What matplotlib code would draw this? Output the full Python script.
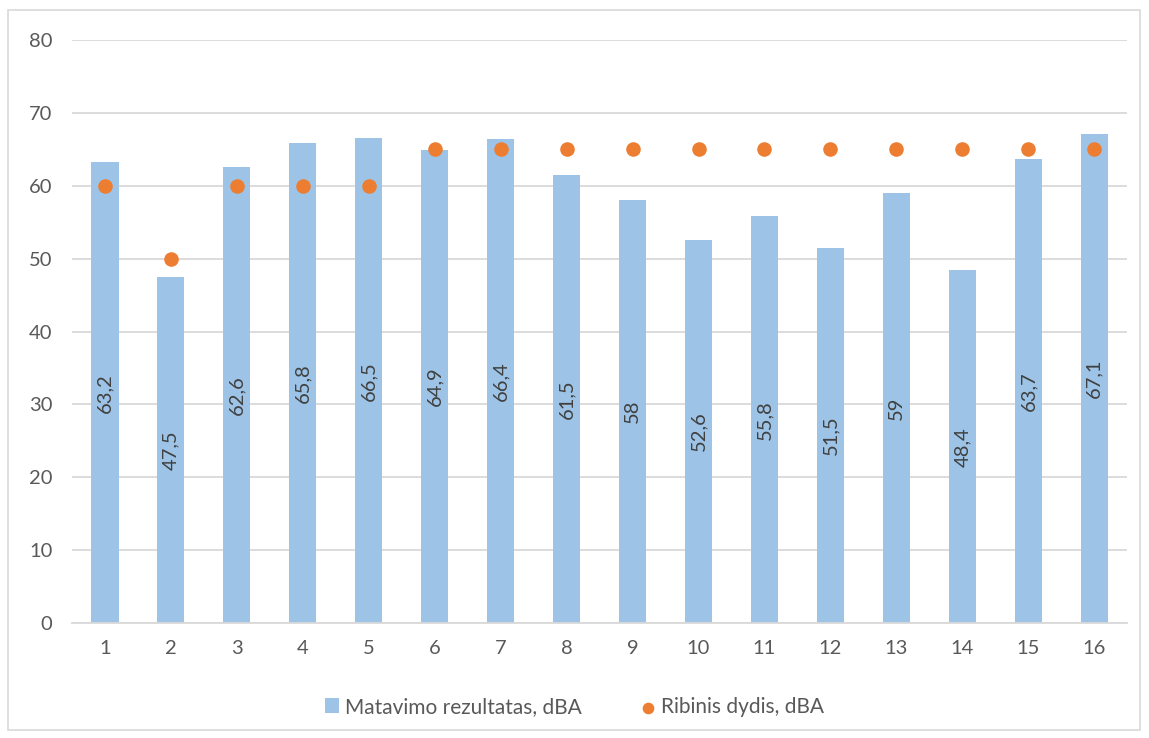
import matplotlib
matplotlib.use('Agg')
import matplotlib.pyplot as plt
import matplotlib.patches as patches
import numpy as np

plt.rcParams['font.family'] = ['Lato', 'DejaVu Sans']

# data
points = [str(i) for i in range(1, 17)]
measured = [63.2, 47.5, 62.6, 65.8, 66.5, 64.9, 66.4, 61.5, 58, 52.6, 55.8, 51.5, 59, 48.4, 63.7, 67.1]
limit = [60, 50, 60, 60, 60, 65, 65, 65, 65, 65, 65, 65, 65, 65, 65, 65]

bar_color = '#9DC3E6'
dot_color = '#ED7D31'
text_color = '#595959'

fig = plt.figure(figsize=(11.49, 7.38), dpi=100)
ax = fig.add_axes([0.0627, 0.1558, 0.9183, 0.79])

# chart border
fig.patches.append(patches.Rectangle((8 / 1149, 8 / 738), 1132 / 1149, 720 / 738,
                                     transform=fig.transFigure, fill=False,
                                     edgecolor='#D9D9D9', linewidth=1.2))

x = np.arange(len(points))
bars = ax.bar(x, measured, width=0.41, color=bar_color, zorder=2,
              label='Matavimo rezultatas, dBA')
dots = ax.scatter(x, limit, s=110, color=dot_color, zorder=3, linewidths=0,
                  label='Ribinis dydis, dBA')

for xi, v in zip(x, measured):
    lbl = ('%g' % v).replace('.', ',')
    ax.text(xi, v / 2, lbl, rotation=90, ha='center', va='center',
            fontsize=14.5, color='#404040', zorder=4)

ax.set_xlim(-0.5, len(points) - 0.5)
ax.set_ylim(0, 80)
ax.set_yticks(range(0, 81, 10))
ax.set_xticks(x)
ax.set_xticklabels(points)
ax.grid(axis='y', color='#D9D9D9', linewidth=1.3, zorder=0)
ax.set_axisbelow(True)
for s in ['top', 'right', 'left']:
    ax.spines[s].set_visible(False)
ax.spines['bottom'].set_color('#D9D9D9')
ax.spines['bottom'].set_linewidth(1.3)
ax.tick_params(length=0, labelsize=14.5, labelcolor=text_color)
ax.tick_params(axis='x', pad=12)
ax.tick_params(axis='y', pad=14)

leg = fig.legend(handles=[bars, dots], loc='center', bbox_to_anchor=(0.5, 1 - 707 / 738),
                 ncol=2, frameon=False, fontsize=15, handlelength=0.7, handleheight=0.7,
                 handletextpad=0.3, columnspacing=2.8, markerscale=0.8)
for t in leg.get_texts():
    t.set_color(text_color)

fig.savefig('out.png', dpi=100)
